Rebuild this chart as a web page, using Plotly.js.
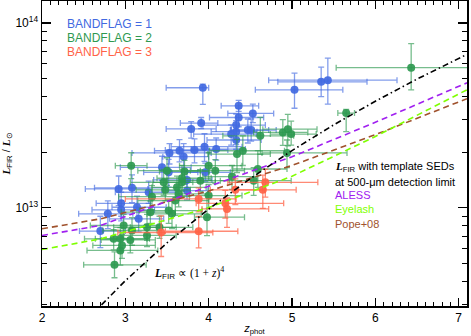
<!DOCTYPE html>
<html><head><meta charset="utf-8">
<script src="https://cdn.plot.ly/plotly-3.0.1.min.js"></script>
<style>html,body{margin:0;padding:0;background:#fff}#chart{width:471px;height:336px}</style>
</head><body><div id="chart"></div>
<script>
// ---- BANDFLAG = 1 (blue) : z_phot, log10(L_FIR/Lsun), z errors (minus/plus), log L errors (minus/plus, dex)
const blueZ    = [3.93,5.03,5.35,5.43,4.36,4.53,3.91,4.36,4.33,4.47,4.51,4.27,4.33,4.33,3.95,4.09,3.96,3.79,3.53,3.65,3.70,3.83,3.44,3.52,3.74,2.92,2.79,2.70,2.95,3.08,3.16,3.28,3.74,3.14,2.95];
const blueLogL = [13.649,13.638,13.681,13.690,13.551,13.510,13.458,13.488,13.447,13.420,13.420,13.398,13.411,13.366,13.330,13.317,13.191,13.426,13.296,13.308,13.276,13.312,13.218,13.191,13.150,13.101,12.966,12.873,13.023,13.107,12.939,13.083,13.092,13.002,12.988];
const blueZm   = [0.44,0.47,0.52,0.71,0.21,0.30,0.25,0.35,0.40,0.20,0.25,0.45,0.30,0.35,0.40,0.30,0.25,0.30,0.45,0.30,0.25,0.35,0.50,0.30,0.40,0.40,0.35,0.25,0.30,0.45,0.35,0.40,0.30,0.30,0.35];
const blueZp   = [0.07,0.58,0.55,0.83,0.24,0.25,0.20,0.30,0.35,0.25,0.30,0.30,0.25,0.30,0.45,0.35,0.30,0.30,0.50,0.35,0.30,0.40,0.35,0.35,0.30,0.35,0.30,0.30,0.35,0.40,0.30,0.35,0.25,0.35,0.40];
const blueLm   = [0.09,0.10,0.08,0.13,0.03,0.05,0.03,0.05,0.08,0.07,0.06,0.06,0.07,0.05,0.08,0.06,0.05,0.05,0.06,0.06,0.08,0.07,0.07,0.08,0.06,0.09,0.08,0.09,0.07,0.08,0.07,0.06,0.05,0.06,0.06];
const blueLp   = [0.02,0.09,0.08,0.12,0.03,0.05,0.03,0.05,0.06,0.06,0.06,0.05,0.06,0.05,0.07,0.06,0.05,0.04,0.05,0.06,0.07,0.06,0.06,0.07,0.05,0.07,0.07,0.08,0.06,0.07,0.06,0.06,0.05,0.06,0.05];

// ---- BANDFLAG = 2 (green)
const greenZ    = [6.43,5.65,4.89,4.95,4.99,4.62,4.41,4.34,4.94,4.59,4.54,4.28,4.08,3.90,3.07,3.50,3.46,3.48,3.62,3.68,3.71,3.32,3.52,3.56,3.60,3.30,2.98,3.08,3.26,3.41,2.86,2.94,2.94,3.06,3.26,3.98,4.00,2.87,2.96,3.64,3.68,4.00];
const greenLogL = [13.758,13.512,13.407,13.425,13.398,13.389,13.308,13.290,13.296,13.209,13.146,13.168,13.200,13.146,13.227,13.200,13.137,13.096,13.110,13.137,13.196,13.059,12.984,12.966,13.038,12.975,12.903,12.876,12.893,12.893,12.831,12.831,12.768,12.825,12.849,12.948,13.227,12.690,12.795,13.074,13.159,13.065];
const greenZm   = [0.90,0.10,0.35,0.30,0.25,0.45,0.40,0.35,0.30,0.30,0.40,0.35,0.30,0.40,0.19,0.35,0.40,0.35,0.30,0.35,0.30,0.40,0.35,0.30,0.45,0.35,0.40,0.35,0.40,0.35,0.35,0.30,0.40,0.35,0.30,0.15,0.35,0.37,0.35,0.35,0.30,0.35];
const greenZp   = [0.80,0.10,0.30,0.35,0.30,0.40,0.50,0.40,0.72,0.35,0.45,0.30,0.35,0.35,0.19,0.40,0.35,0.30,0.35,0.40,0.30,0.45,0.40,0.35,0.40,0.30,0.45,0.30,0.35,0.40,0.40,0.35,0.45,0.30,0.35,0.45,0.40,0.38,0.40,0.35,0.35,0.40];
const greenLm   = [0.12,0.10,0.07,0.09,0.06,0.10,0.08,0.10,0.08,0.10,0.08,0.07,0.07,0.06,0.07,0.08,0.07,0.06,0.07,0.08,0.07,0.07,0.07,0.08,0.08,0.06,0.07,0.08,0.07,0.06,0.06,0.07,0.08,0.07,0.06,0.10,0.08,0.07,0.07,0.07,0.07,0.07];
const greenLp   = [0.13,0.02,0.07,0.08,0.07,0.10,0.08,0.08,0.07,0.10,0.07,0.06,0.06,0.06,0.07,0.07,0.07,0.06,0.06,0.07,0.06,0.06,0.06,0.07,0.07,0.06,0.06,0.07,0.07,0.06,0.05,0.06,0.07,0.06,0.06,0.12,0.07,0.07,0.06,0.06,0.07,0.06];

// ---- BANDFLAG = 3 (red)
const redZ    = [4.68,4.32,4.65,4.20,4.22,3.88,3.88,3.43];
const redLogL = [13.137,13.096,13.096,13.023,12.993,13.047,12.872,12.865];
const redZm   = [0.45,0.30,0.35,0.35,0.30,0.88,0.40,0.52];
const redZp   = [0.63,0.35,0.40,0.70,0.50,0.45,0.47,0.62];
const redLm   = [0.08,0.08,0.10,0.08,0.10,0.07,0.09,0.13];
const redLp   = [0.07,0.06,0.08,0.07,0.06,0.06,0.08,0.09];

// ---- model curves
const powZ    = [2.6,3.0,3.5,4.0,4.5,5.0,5.5,6.0,6.5,7.0,7.1];
const powLogL = [12.421,12.604,12.809,12.992,13.157,13.309,13.448,13.576,13.696,13.808,13.830];
const tmplZ       = [2.0,2.7,4.0,5.0,6.0,7.1];
const alessLogL   = [12.849,12.903,13.115,13.275,13.462,13.676];
const eyelashLogL = [12.773,12.830,13.000,13.170,13.385,13.638];
const popeLogL    = [12.885,12.939,13.090,13.228,13.395,13.590];

const toL = a => a.map(v => Math.pow(10, v));
function pts(z, lg, zm, zp, lm, lp, col, ecol) {
  const L = toL(lg);
  return {
    type: 'scatter', mode: 'markers', x: z, y: L, showlegend: false,
    marker: {size: 8, color: col, opacity: 0.92},
    error_x: {type: 'data', symmetric: false, array: zp, arrayminus: zm, color: ecol, thickness: 1.3, width: 3},
    error_y: {type: 'data', symmetric: false,
      array: L.map((v, i) => v * (Math.pow(10, lp[i]) - 1)),
      arrayminus: L.map((v, i) => v * (1 - Math.pow(10, -lm[i]))),
      color: ecol, thickness: 1.3, width: 3}
  };
}
function line(x, lg, col, dash) {
  return {type: 'scatter', mode: 'lines', x: x, y: toL(lg), showlegend: false,
    line: {color: col, width: 1.6, dash: dash}};
}
const BLUE = '#4169E1', GREEN = '#2E9950', RED = '#FF6347';
const data = [
  pts(blueZ, blueLogL, blueZm, blueZp, blueLm, blueLp, BLUE, 'rgba(65,105,225,0.65)'),
  pts(greenZ, greenLogL, greenZm, greenZp, greenLm, greenLp, GREEN, 'rgba(46,153,80,0.65)'),
  pts(redZ, redLogL, redZm, redZp, redLm, redLp, RED, 'rgba(255,99,71,0.75)'),
  line(tmplZ, popeLogL, '#A0522D', '6px,4px'),
  line(tmplZ, alessLogL, '#A020F0', '6px,4px'),
  line(tmplZ, eyelashLogL, '#7FFF00', '6px,4px'),
  line(powZ, powLogL, '#000000', '6px,3px,1.5px,3px')
];
const minorY = [3e12,4e12,5e12,6e12,7e12,8e12,9e12,2e13,3e13,4e13,5e13,6e13,7e13,8e13,9e13];
const FONT = 'Liberation Sans, Arial, sans-serif';
const SERIF = 'Liberation Serif';
const ann = (x, y, text, color, size) => ({xref: 'paper', yref: 'paper', x: x, y: y, xanchor: 'left', yanchor: 'middle',
  text: text, showarrow: false, font: {family: FONT, size: size || 12, color: color}});
const layout = {
  width: 471, height: 336,
  margin: {l: 42, r: 4, t: 1, b: 30},
  paper_bgcolor: '#fff', plot_bgcolor: '#fff',
  font: {family: FONT, size: 12, color: '#000'},
  xaxis: {range: [2, 7.1], showline: true, linecolor: '#000', linewidth: 1.5, mirror: 'allticks',
    ticks: 'inside', ticklen: 8, tickwidth: 1.3, tickcolor: '#000', dtick: 1, tick0: 0,
    minor: {dtick: 0.1, tick0: 0, ticks: 'inside', ticklen: 4, tickwidth: 1, tickcolor: '#000'},
    showgrid: false, zeroline: false, tickfont: {size: 12},
    title: {text: '<i>z</i><sub>phot</sub>', font: {size: 11}, standoff: 3}},
  yaxis: {type: 'log', range: [12.467, 14.119], showline: true, linecolor: '#000', linewidth: 1.5, mirror: 'allticks',
    ticks: 'inside', ticklen: 9, tickwidth: 1.3, tickcolor: '#000',
    tickmode: 'array', tickvals: [1e13, 1e14], ticktext: ['10<sup>13</sup>', '10<sup>14</sup>'],
    minor: {tickmode: 'array', tickvals: minorY, ticks: 'inside', ticklen: 5, tickwidth: 1, tickcolor: '#000'},
    showgrid: false, zeroline: false, tickfont: {size: 12},
    title: {text: '<span style="font-family:' + SERIF + '"><b><i>L</i></b></span><sub>FIR</sub> / <span style="font-family:' + SERIF + '"><b><i>L</i></b></span><sub>⊙</sub>', font: {size: 11}, standoff: 4}},
  annotations: [
    ann(0.054, 0.924, 'BANDFLAG = 1', BLUE),
    ann(0.054, 0.878, 'BANDFLAG = 2', GREEN),
    ann(0.054, 0.832, 'BANDFLAG = 3', RED),
    ann(0.685, 0.457, '<span style="font-family:' + SERIF + '"><b><i>L</i></b></span><sub>FIR</sub> with template SEDs', '#000', 11),
    ann(0.685, 0.408, 'at 500-μm detection limit', '#000', 11),
    ann(0.685, 0.364, 'ALESS', '#A020F0', 11),
    ann(0.685, 0.317, 'Eyelash', '#7FFF00', 11),
    ann(0.685, 0.270, 'Pope+08', '#A0522D', 11),
    ann(0.258, 0.107, '<span style="font-family:' + SERIF + '"><b><i>L</i></b></span><sub>FIR</sub> <span style="font-family:' + SERIF + '">∝ (1 + <i>z</i>)<sup>4</sup></span>', '#000', 11.5)
  ]
};
Plotly.newPlot('chart', data, layout, {staticPlot: true, displayModeBar: false});
</script></body></html>
